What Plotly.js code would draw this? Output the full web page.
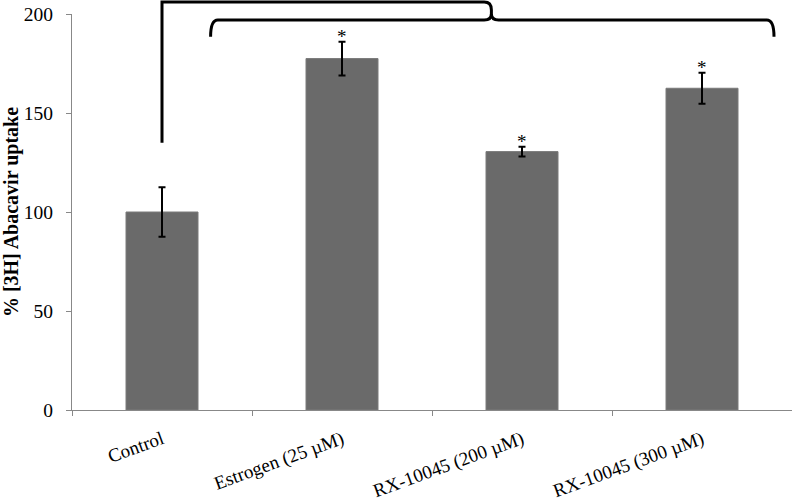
<!DOCTYPE html>
<html>
<head>
<meta charset="utf-8">
<script src="https://cdn.plot.ly/plotly-3.0.1.min.js"></script>
<style>html,body{margin:0;padding:0;background:#fff;}</style>
</head>
<body>
<div id="chart" style="width:792px;height:503px;"></div>
<script>
var categories = ["Control", "Estrogen (25 \u00b5M)", "RX-10045 (200 \u00b5M)", "RX-10045 (300 \u00b5M)"];
var uptake = [100, 177.5, 130.5, 162.5];
var errors = [12.5, 8.5, 2.5, 7.8];
var significance = ["", "*", "*", "*"];
var yTicks = [0, 50, 100, 150, 200];

var yMax = 200;
var n = categories.length;
function px(i) { return (i + 0.5) / n; }      // category index -> paper x
function py(v) { return v / yMax; }           // value -> paper y

var fontFam = "'Liberation Serif', 'Times New Roman', serif";

var trace = {
  type: 'bar',
  x: categories,
  y: uptake,
  width: 0.4,
  marker: {color: '#6a6a6a', line: {color: '#7a7a7a', width: 1}},
  error_y: {type: 'data', array: errors, visible: true, color: '#000', thickness: 2, width: 3.5},
  hoverinfo: 'x+y'
};

var annotations = [];
for (var i = 0; i < n; i++) {
  if (significance[i]) {
    annotations.push({
      x: categories[i], y: uptake[i] + errors[i], xref: 'x', yref: 'y',
      text: significance[i], showarrow: false, yanchor: 'middle', yshift: 5,
      font: {family: fontFam, size: 19, color: '#000'}
    });
  }
}

// bracket geometry (category-index / value units)
var topY = 206, lowY = 197, lowEnd = 188.5, tipX = 1.83;
var aStart = [0, 135];
var bLeft = 0.27, bRight = 3.4;
function P(x, y) { return px(x).toFixed(5) + ',' + py(y).toFixed(5); }
var r = 0.04, ry = 4;
var pathA = 'M' + P(aStart[0], aStart[1]) + ' L' + P(aStart[0], topY) +
  ' L' + P(tipX - r, topY) + ' Q' + P(tipX, topY) + ' ' + P(tipX, topY - ry) +
  ' L' + P(tipX, lowY + 1);
var pathB = 'M' + P(bLeft, lowEnd) + ' Q' + P(bLeft, lowY) + ' ' + P(bLeft + r, lowY) +
  ' L' + P(tipX - r, lowY) + ' Q' + P(tipX, lowY) + ' ' + P(tipX, lowY + 3) +
  ' Q' + P(tipX, lowY) + ' ' + P(tipX + r, lowY) +
  ' L' + P(bRight - r, lowY) + ' Q' + P(bRight, lowY) + ' ' + P(bRight, lowEnd);

var shapes = [
  {type: 'path', xref: 'paper', yref: 'paper', path: pathA, line: {color: '#000', width: 3}},
  {type: 'path', xref: 'paper', yref: 'paper', path: pathB, line: {color: '#000', width: 3}}
];

var layout = {
  width: 792, height: 503,
  margin: {l: 72, r: 0, t: 14, b: 93},
  paper_bgcolor: '#fff', plot_bgcolor: '#fff',
  showlegend: false,
  bargap: 0.6,
  font: {family: fontFam, color: '#000'},
  xaxis: {
    type: 'category',
    tickangle: -20,
    ticks: 'outside', tickson: 'boundaries', ticklen: 5, tickcolor: '#888',
    showline: true, linecolor: '#888', linewidth: 1,
    showgrid: false, zeroline: false,
    ticklabelstandoff: 10,
    tickfont: {family: fontFam, size: 19, color: '#000'}
  },
  yaxis: {
    range: [0, yMax],
    tickvals: yTicks,
    ticks: 'outside', ticklen: 5, tickcolor: '#888',
    showline: true, linecolor: '#888', linewidth: 1,
    showgrid: false, zeroline: false,
    ticklabelstandoff: 9,
    tickfont: {family: fontFam, size: 19.5, color: '#000'},
    title: {text: '<b>% [3H] Abacavir uptake</b>', standoff: 8,
            font: {family: fontFam, size: 20, color: '#000'}}
  },
  annotations: annotations,
  shapes: shapes
};

Plotly.newPlot('chart', [trace], layout, {displayModeBar: false, staticPlot: true});
</script>
</body>
</html>
